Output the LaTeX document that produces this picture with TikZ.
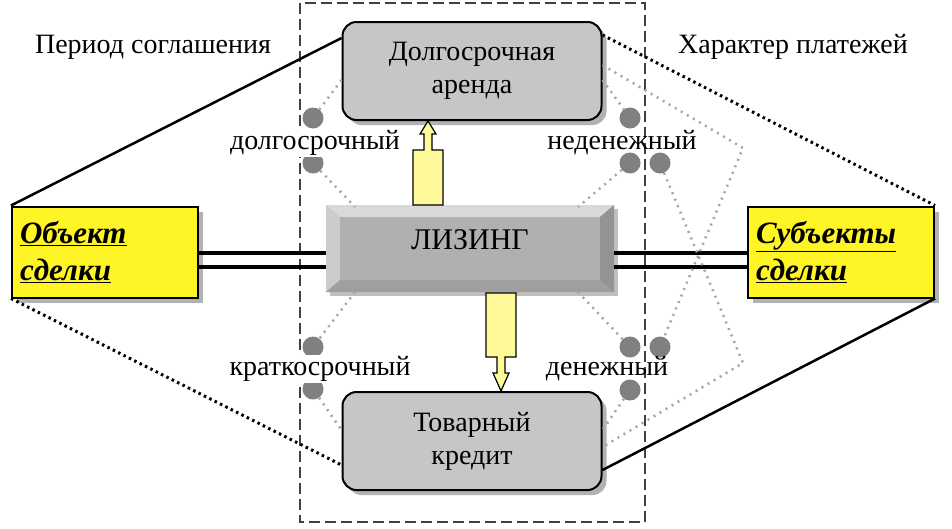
\documentclass[tikz,border=0pt]{standalone}
\usepackage{fontspec}
\setmainfont{Liberation Serif}
\usetikzlibrary{shadows}
\begin{document}
\begin{tikzpicture}[x=1pt,y=-1pt,
  gbox/.style={draw=black,line width=2pt,rounded corners=14pt,fill=gray!45,minimum width=259pt,minimum height=98pt,align=center,font=\fontsize{28}{33}\selectfont,drop shadow={shadow xshift=5pt,shadow yshift=-5pt,opacity=0.6}},
  ybox/.style={draw=black,line width=2pt,fill=yellow!85!white,minimum width=186pt,minimum height=91pt,text width=170pt,align=left,font=\fontsize{31}{37}\selectfont\bfseries\itshape,drop shadow={shadow xshift=5pt,shadow yshift=-5pt,opacity=0.6}},
  dot/.style={circle,fill=gray!75!black!80,minimum size=21pt,inner sep=0pt},
  gdot/.style={gray!70,line width=2.5pt,dash pattern=on 2pt off 5pt},
  lbl/.style={font=\fontsize{28}{33}\selectfont,inner sep=1pt},
  arr/.style={draw=black,line width=1.2pt,fill=yellow!40}]
\useasboundingbox (0,0) rectangle (952,528);
\fill[white] (0,0) rectangle (952,528);
% dashed frame
\draw[black!75,line width=1.3pt,dash pattern=on 11pt off 5pt] (300,3) rectangle (645,522);
% labels
\node[lbl] (per) at (153,47) {Период соглашения};
\node[lbl] (har) at (793,47) {Характер платежей};
% boxes
\node[gbox] (top) at (472,71) {Долгосрочная\\аренда};
\node[gbox] (bot) at (472,441) {Товарный\\кредит};
\node[ybox] (obj) at (105,252) {\underline{Объект}\\\underline{сделки}};
\node[ybox] (sub) at (841,252) {\underline{Субъекты}\\\underline{сделки}};
% leasing bevel box
\node[minimum width=288pt,minimum height=87pt,inner sep=0pt] (lis) at (470,248) {};
\fill[gray!55,drop shadow={shadow xshift=4pt,shadow yshift=-4pt,opacity=0.5}] (326,205) rectangle (614,292);
\fill[gray!30] (326,205) -- (614,205) -- (600,217) -- (340,217) -- cycle;
\fill[gray!40] (326,205) -- (340,217) -- (340,280) -- (326,292) -- cycle;
\fill[gray!75] (326,292) -- (340,280) -- (600,280) -- (614,292) -- cycle;
\fill[gray!85] (614,205) -- (600,217) -- (600,280) -- (614,292) -- cycle;
\fill[gray!62] (340,217) rectangle (600,280);
\node[font=\fontsize{30}{34}\selectfont] at (470,240) {ЛИЗИНГ};
% double lines
\draw[line width=4pt] (obj.east |- 0,253) -- (lis.west |- 0,253);
\draw[line width=4pt] (obj.east |- 0,267) -- (lis.west |- 0,267);
\draw[line width=4pt] (lis.east |- 0,253) -- (sub.west |- 0,253);
\draw[line width=4pt] (lis.east |- 0,267) -- (sub.west |- 0,267);
% circles
\node[dot] (l1) at (313,118) {}; \node[dot] (l2) at (313,163) {};
\node[dot] (l3) at (313,347) {}; \node[dot] (l4) at (313,389) {};
\node[dot] (r1) at (630,118) {}; \node[dot] (r2) at (630,163) {};
\node[dot] (r3) at (630,347) {}; \node[dot] (r4) at (630,390) {};
\node[dot] (x1) at (660,163) {}; \node[dot] (x2) at (660,347) {};
\coordinate (pa) at (743,148); \coordinate (pb) at (743,363);
% gray dotted lines
\draw[gdot] (top.west |- 0,80) -- (l1);
\draw[gdot] (l2) -- (355,207);
\draw[gdot] (355,292) -- (l3);
\draw[gdot] (l4) -- (bot.west |- 0,430);
\draw[gdot] (top.east |- 0,80) -- (r1);
\draw[gdot] (r2) -- (578,207);
\draw[gdot] (578,292) -- (r3);
\draw[gdot] (r4) -- (bot.east |- 0,430);
\draw[gdot] (top.east |- 0,65) -- (pa) -- (x2);
\draw[gdot] (x1) -- (pb) -- (bot.east |- 0,447);
% black lines
\draw[line width=2.5pt] (obj.north west) -- (top.west |- 0,38);
\draw[line width=2.5pt] (bot.east |- 0,470) -- (sub.south east);
\draw[line width=3pt,dash pattern=on 2.5pt off 3.5pt] (top.east |- 0,35) -- (sub.north east);
\draw[line width=3pt,dash pattern=on 2.5pt off 3.5pt] (obj.south west) -- (bot.west |- 0,465);
% labels
\node[lbl,fill=white] at (315,143) {долгосрочный};
\node[lbl] at (622,143) {неденежный};
\node[lbl,fill=white] at (320,369) {краткосрочный};
\node[lbl] at (607,369) {денежный};
% arrows
\draw[arr] (413,205) -- (413,150) -- (424,150) -- (424,134) -- (420,134) -- (428,121) -- (436,134) -- (432,134) -- (432,150) -- (443,150) -- (443,205) -- cycle;
\draw[arr] (486,293) -- (486,357) -- (497,357) -- (497,373) -- (493,373) -- (501,391) -- (509,373) -- (505,373) -- (505,357) -- (516,357) -- (516,293) -- cycle;
\end{tikzpicture}
\end{document}
